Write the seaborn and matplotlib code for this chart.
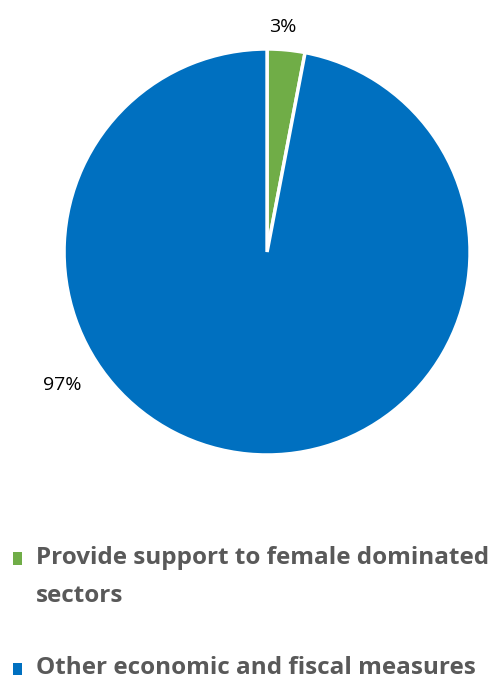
import matplotlib.pyplot as plt
import seaborn as sns
import numpy as np

sns.set_style('white')
plt.rcParams['font.family'] = ['Open Sans', 'DejaVu Sans']

categories = ['Provide support to female dominated\nsectors', 'Other economic and fiscal measures']
shares = [3, 97]
colors = ['#70AD47', '#0070C0']
label_text = ['3%', '97%']

fig = plt.figure(figsize=(4.94, 6.84), dpi=100)
ax = fig.add_axes([0.1296, 0.3348, 0.822, 0.5936])

wedges, _ = ax.pie(shares, colors=colors, startangle=90, counterclock=False,
                   wedgeprops=dict(edgecolor='white', linewidth=2.5))
ax.set_xlim(-1, 1)
ax.set_ylim(-1, 1)
ax.set_aspect('equal')
ax.axis('off')

# data label placement (Excel best fit)
label_pos = [(85.9, 1.11), (213.0, 1.20)]
for txt, (ang, r) in zip(label_text, label_pos):
    a = np.deg2rad(ang)
    ax.text(r * np.cos(a), r * np.sin(a), txt, ha='center', va='center',
            fontsize=14, color='black')

leg = fig.legend(wedges, categories, loc='upper left', bbox_to_anchor=(0.006, 0.216),
                 frameon=False, prop=dict(family='Open Sans', weight='bold', size=17.5),
                 labelcolor='#595959', handlelength=0.4, handleheight=0.4,
                 handletextpad=0.55, labelspacing=2.0, borderaxespad=0)
for t in leg.get_texts():
    t.set_linespacing(1.76)
for h in leg.legend_handles:
    h.set_edgecolor('none')
    h.set_y(h.get_y() - 4.5)
# put the square next to the first line of a wrapped label
for col in leg._legend_handle_box.get_children():
    for row in col.get_children():
        row.align = 'top'

fig.savefig('out.png', dpi=100)
